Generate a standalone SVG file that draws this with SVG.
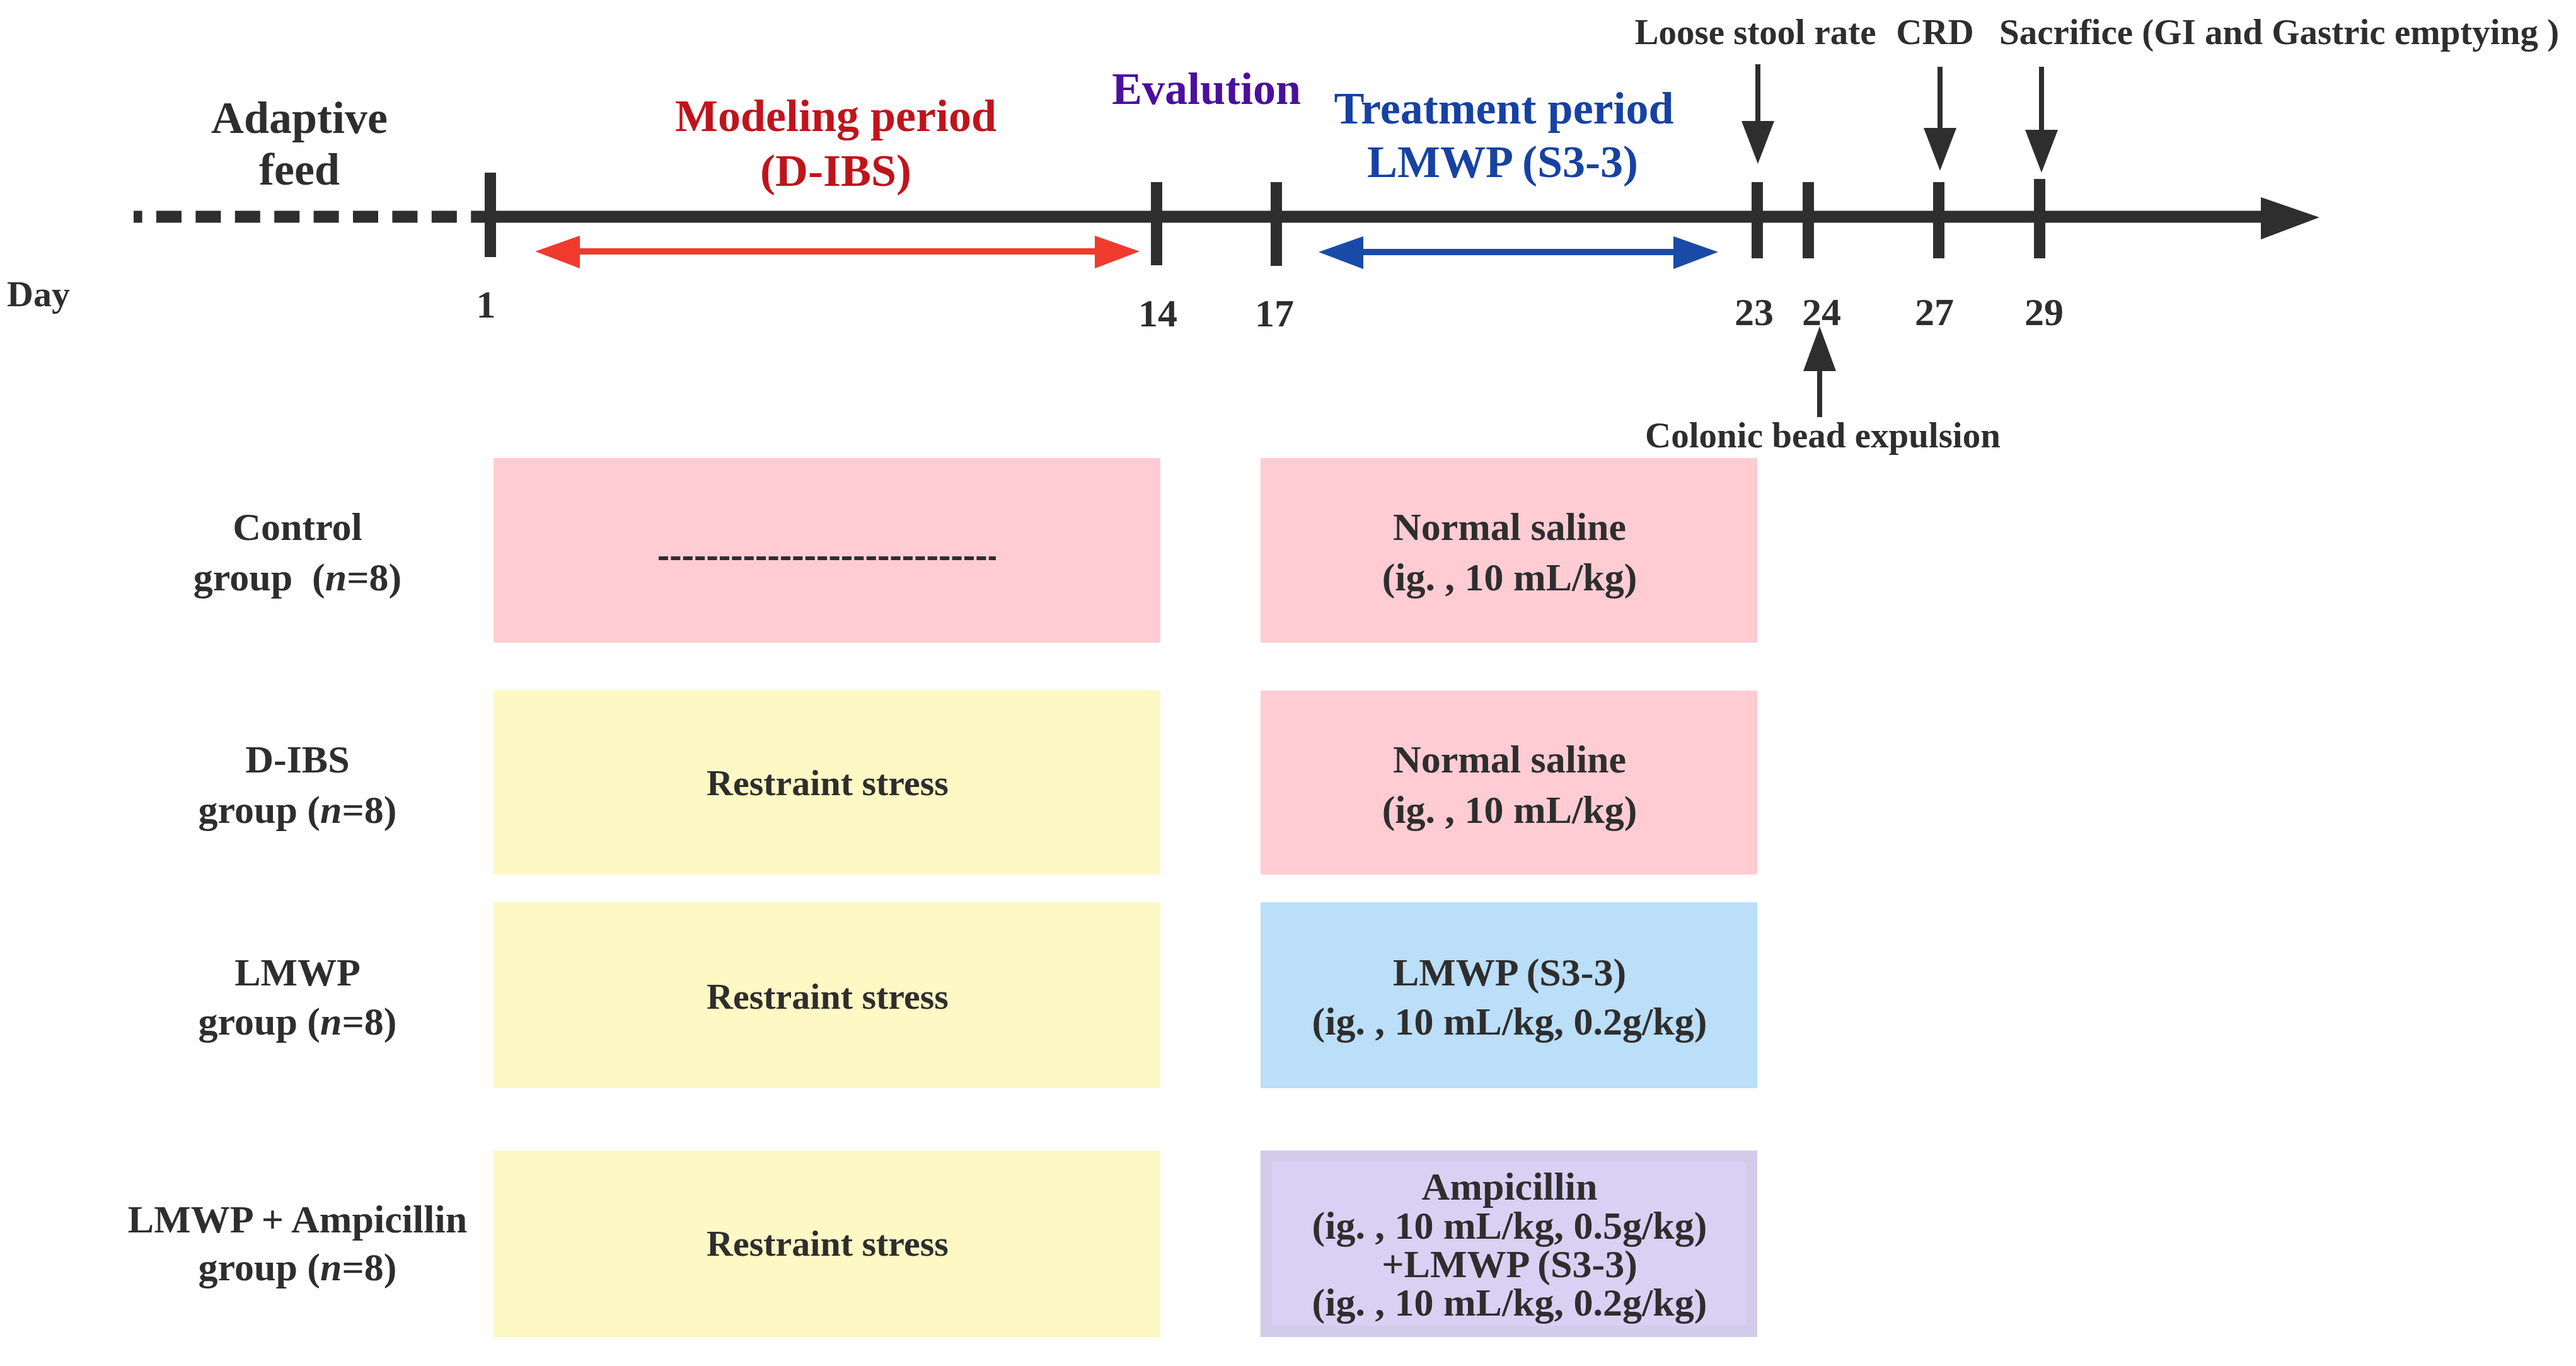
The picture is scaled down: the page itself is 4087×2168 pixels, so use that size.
<svg xmlns="http://www.w3.org/2000/svg" width="4087" height="2168" viewBox="0 0 4087 2168">
<style>
text{font-family:"Liberation Serif","Times New Roman",serif;font-weight:bold;fill:#2e2e2e}
.c{text-anchor:middle}
.h{font-size:72px}
.ev{font-size:57px}
.g{font-size:62px}
.rs{font-size:58px}
.num{font-size:62px}
.red{fill:#c0141c}
.pur{fill:#4a0f9e}
.blu{fill:#1742a3}
.tick{stroke:#2e2e2e;stroke-width:18}
.axis{stroke:#2e2e2e;stroke-width:19}
.pk{fill:#ffccd3}
.yl{fill:#fef8c5}
.bl{fill:#bbdef9}
</style>
<rect width="4087" height="2168" fill="#ffffff"/>
<g id="connectors">
<line x1="212" y1="344" x2="770" y2="344" class="axis" stroke-dasharray="40 22.4" stroke-dashoffset="26.4"/>
<line x1="770" y1="344" x2="3592" y2="344" class="axis"/>
<polygon points="3587,313 3680,345 3587,380" fill="#2e2e2e"/>
<line x1="778" y1="274" x2="778" y2="408" class="tick" stroke-width="20"/>
<line x1="1835" y1="289" x2="1835" y2="421" class="tick"/>
<line x1="2025" y1="289" x2="2025" y2="422" class="tick"/>
<line x1="2788" y1="289" x2="2788" y2="410" class="tick"/>
<line x1="2869" y1="289" x2="2869" y2="410" class="tick"/>
<line x1="3076" y1="289" x2="3076" y2="410" class="tick"/>
<line x1="3236" y1="284" x2="3236" y2="410" class="tick"/>
<line x1="915" y1="399" x2="1742" y2="399" stroke="#f03a2e" stroke-width="10"/>
<polygon points="849,399 920,374 920,426" fill="#f03a2e"/>
<polygon points="1808,399 1737,374 1737,426" fill="#f03a2e"/>
<line x1="2158" y1="400" x2="2660" y2="400" stroke="#1a4aa8" stroke-width="10"/>
<polygon points="2092,400 2163,375 2163,427" fill="#1a4aa8"/>
<polygon points="2726,400 2655,375 2655,427" fill="#1a4aa8"/>
<line x1="2789" y1="102" x2="2789" y2="200" stroke="#2e2e2e" stroke-width="8"/>
<polygon points="2763,192 2815,192 2789,260" fill="#2e2e2e"/>
<line x1="3078" y1="106" x2="3078" y2="210" stroke="#2e2e2e" stroke-width="8"/>
<polygon points="3052,203 3104,203 3078,271" fill="#2e2e2e"/>
<line x1="3239" y1="106" x2="3239" y2="212" stroke="#2e2e2e" stroke-width="8"/>
<polygon points="3213,206 3265,206 3239,274" fill="#2e2e2e"/>
<line x1="2887" y1="580" x2="2887" y2="662" stroke="#2e2e2e" stroke-width="8"/>
<polygon points="2861,589 2913,589 2887,518" fill="#2e2e2e"/>
</g>
<g id="timeline-labels">
<text class="h c" x="475" y="211">Adaptive</text>
<text class="h c" x="475" y="293">feed</text>
<text class="h c red" x="1326" y="208">Modeling period</text>
<text class="h c red" x="1326" y="295">(D-IBS)</text>
<text class="h c pur" x="1914" y="165">Evalution</text>
<text class="h c blu" x="2386" y="196">Treatment period</text>
<text class="h c blu" x="2384" y="281">LMWP (S3-3)</text>
<text class="ev c" x="2785" y="70">Loose stool rate</text>
<text class="ev c" x="3070" y="70">CRD</text>
<text class="ev" x="3172" y="70">Sacrifice (GI and Gastric emptying )</text>
<text class="ev c" x="2892" y="710">Colonic bead expulsion</text>
<text class="rs" x="11" y="486">Day</text>
<text class="num c" x="771" y="504">1</text>
<text class="num c" x="1837" y="518">14</text>
<text class="num c" x="2022" y="518">17</text>
<text class="num c" x="2783" y="516">23</text>
<text class="num c" x="2890" y="516">24</text>
<text class="num c" x="3069" y="516">27</text>
<text class="num c" x="3243" y="516">29</text>
</g>
<g id="control-group">
<text class="g c" x="472" y="857">Control</text>
<text class="g c" x="472" y="937" xml:space="preserve">group  (<tspan font-style="italic">n</tspan>=8)</text>
<rect class="pk" x="783" y="727" width="1058" height="293"/>
<line x1="1045" y1="886" x2="1580" y2="886" stroke="#2e2e2e" stroke-width="6" stroke-dasharray="15 4.4"/>
<rect class="pk" x="2000" y="727" width="788" height="293"/>
<text class="g c" x="2395" y="857">Normal saline</text>
<text class="g c" x="2395" y="937">(ig. , 10 mL/kg)</text>
</g>
<g id="dibs-group">
<text class="g c" x="472" y="1226">D-IBS</text>
<text class="g c" x="472" y="1306">group (<tspan font-style="italic">n</tspan>=8)</text>
<rect class="yl" x="783" y="1096" width="1058" height="292"/>
<text class="rs c" x="1313" y="1262">Restraint stress</text>
<rect class="pk" x="2000" y="1096" width="788" height="292"/>
<text class="g c" x="2395" y="1226">Normal saline</text>
<text class="g c" x="2395" y="1306">(ig. , 10 mL/kg)</text>
</g>
<g id="lmwp-group">
<text class="g c" x="472" y="1564">LMWP</text>
<text class="g c" x="472" y="1642">group (<tspan font-style="italic">n</tspan>=8)</text>
<rect class="yl" x="783" y="1432" width="1058" height="295"/>
<text class="rs c" x="1313" y="1601">Restraint stress</text>
<rect class="bl" x="2000" y="1432" width="788" height="295"/>
<text class="g c" x="2395" y="1564">LMWP (S3-3)</text>
<text class="g c" x="2395" y="1642">(ig. , 10 mL/kg, 0.2g/kg)</text>
</g>
<g id="lmwp-ampicillin-group">
<text class="g c" x="472" y="1956">LMWP + Ampicillin</text>
<text class="g c" x="472" y="2032">group (<tspan font-style="italic">n</tspan>=8)</text>
<rect class="yl" x="783" y="1826" width="1058" height="296"/>
<text class="rs c" x="1313" y="1993">Restraint stress</text>
<rect x="2000" y="1826" width="788" height="296" fill="#d3cbea"/>
<rect x="2018" y="1844" width="752" height="260" fill="#d9d1f3"/>
<text class="g c" x="2395" y="1904">Ampicillin</text>
<text class="g c" x="2395" y="1966">(ig. , 10 mL/kg, 0.5g/kg)</text>
<text class="g c" x="2395" y="2027">+LMWP (S3-3)</text>
<text class="g c" x="2395" y="2088">(ig. , 10 mL/kg, 0.2g/kg)</text>
</g>
</svg>
